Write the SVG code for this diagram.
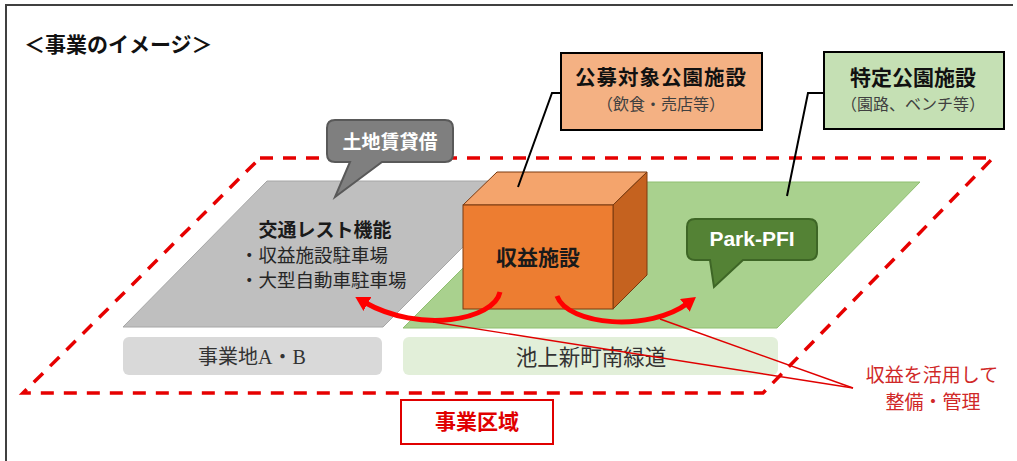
<svg xmlns="http://www.w3.org/2000/svg" width="1017" height="461" viewBox="0 0 1017 461">
<style>
text{font-family:"Noto Sans CJK JP","Liberation Sans",sans-serif;}
.b{font-weight:bold;}
.ser{font-family:"Liberation Serif","Noto Sans CJK JP",serif;}
.lead{fill:none;stroke:#000;stroke-width:2;}
.arc{fill:none;stroke:#ff0000;stroke-width:5;}
.thin{fill:none;stroke:#e00000;stroke-width:1.4;}
</style>
<defs>
<marker id="ah" markerUnits="userSpaceOnUse" markerWidth="20" markerHeight="20" refX="4" refY="8" orient="auto">
<path d="M0,0 L14,8 L0,16 Z" fill="#ff0000"/>
</marker>
</defs>
<rect width="1017" height="461" fill="#fff"/>
<path d="M1013,5 H6 V461" fill="none" stroke="#404040" stroke-width="2"/>
<text x="24" y="52" font-size="21" class="b" fill="#111">＜事業のイメージ＞</text>

<g id="area-dashed">
<path d="M260,158 L993,158 L763,393 L23,393 Z" fill="none" stroke="#e60000" stroke-width="3.5" stroke-dasharray="13,10"/>
</g>

<g id="site-ab">
<path d="M267,181 L529,181 L383,327 L123,327 Z" fill="#bfbfbf" stroke="#a6a6a6" stroke-width="1"/>
<text x="325" y="237" font-size="19" class="b" fill="#1a1a1a" text-anchor="middle">交通レスト機能</text>
<text x="240" y="262" font-size="18.5" fill="#262626">・収益施設駐車場</text>
<text x="240" y="287" font-size="18.5" fill="#262626">・大型自動車駐車場</text>
</g>

<g id="green-area">
<path d="M549,182 L920,182 L777,328 L403,328 Z" fill="#a9d18e" stroke="#8fbf70" stroke-width="1"/>
</g>

<g id="label-ab">
<rect x="123" y="337" width="259" height="38" rx="6" fill="#d9d9d9"/>
<text x="252" y="364" font-size="20" class="ser" fill="#333" text-anchor="middle">事業地A・B</text>
</g>

<g id="label-green">
<rect x="403" y="337" width="375" height="38" rx="6" fill="#e2efd9"/>
<text x="591" y="365" font-size="21.5" fill="#333" text-anchor="middle">池上新町南緑道</text>
</g>

<g id="revenue-box">
<path d="M463,205 L497,172 L647,172 L613,205 Z" fill="#f4a46c" stroke="#7a3a10" stroke-width="1"/>
<path d="M613,205 L647,172 L647,275 L613,309 Z" fill="#c5621f" stroke="#7a3a10" stroke-width="1"/>
<rect x="463" y="205" width="150" height="104" fill="#ed7d31" stroke="#7a3a10" stroke-width="1"/>
<text x="538" y="265" font-size="21" class="b" fill="#1a1a1a" text-anchor="middle">収益施設</text>
</g>

<g id="callout-land">
<path d="M335,120 H445 Q453,120 453,128 V154 Q453,162 445,162 H382 L335,197 L350,162 H335 Q327,162 327,154 V128 Q327,120 335,120 Z" fill="#7f7f7f" stroke="#595959" stroke-width="2"/>
<text x="390" y="149" font-size="19" class="b" fill="#fff" text-anchor="middle">土地賃貸借</text>
</g>

<g id="callout-parkpfi">
<path d="M695,219 H809 Q817,219 817,227 V252 Q817,260 809,260 H743 L714,287 L710,260 H695 Q687,260 687,252 V227 Q687,219 695,219 Z" fill="#548235" stroke="#3e6626" stroke-width="2"/>
<text x="752" y="246" font-size="21" class="b" fill="#fff" text-anchor="middle" style="font-family:'Liberation Sans',sans-serif">Park-PFI</text>
</g>

<g id="box-koubo">
<rect x="561" y="53" width="201" height="77" fill="#f4b183" stroke="#000" stroke-width="2"/>
<text x="661" y="85" font-size="20.5" class="b" fill="#111" text-anchor="middle" letter-spacing="1">公募対象公園施設</text>
<text x="661" y="110" font-size="16" fill="#404040" text-anchor="middle">（飲食・売店等）</text>
</g>

<g id="box-tokutei">
<rect x="824" y="52" width="180" height="77" fill="#c5e0b4" stroke="#000" stroke-width="2"/>
<text x="913" y="85" font-size="21" class="b" fill="#111" text-anchor="middle">特定公園施設</text>
<text x="913" y="110" font-size="16" fill="#404040" text-anchor="middle">（園路、ベンチ等）</text>
</g>

<g id="connectors">
<polyline class="lead" points="561,93 552,93 518,187"/>
<polyline class="lead" points="824,93 808,93 787,196"/>
<path class="arc" d="M500,292 C494,320 420,334 364,302" marker-end="url(#ah)"/>
<path class="arc" d="M557,296 C568,326 650,332 688,303" marker-end="url(#ah)"/>
<line class="thin" x1="433" y1="322" x2="853" y2="388"/>
<line class="thin" x1="660" y1="319" x2="853" y2="388"/>
</g>

<g id="label-revenue">
<text x="932" y="382" font-size="19" fill="#d02828" text-anchor="middle">収益を活用して</text>
<text x="933" y="409" font-size="19" fill="#d02828" text-anchor="middle">整備・管理</text>
</g>

<g id="box-area">
<rect x="401" y="400" width="152" height="44" fill="#fff" stroke="#e00000" stroke-width="2"/>
<text x="477" y="429" font-size="21" class="b" fill="#e00000" text-anchor="middle">事業区域</text>
</g>
</svg>
